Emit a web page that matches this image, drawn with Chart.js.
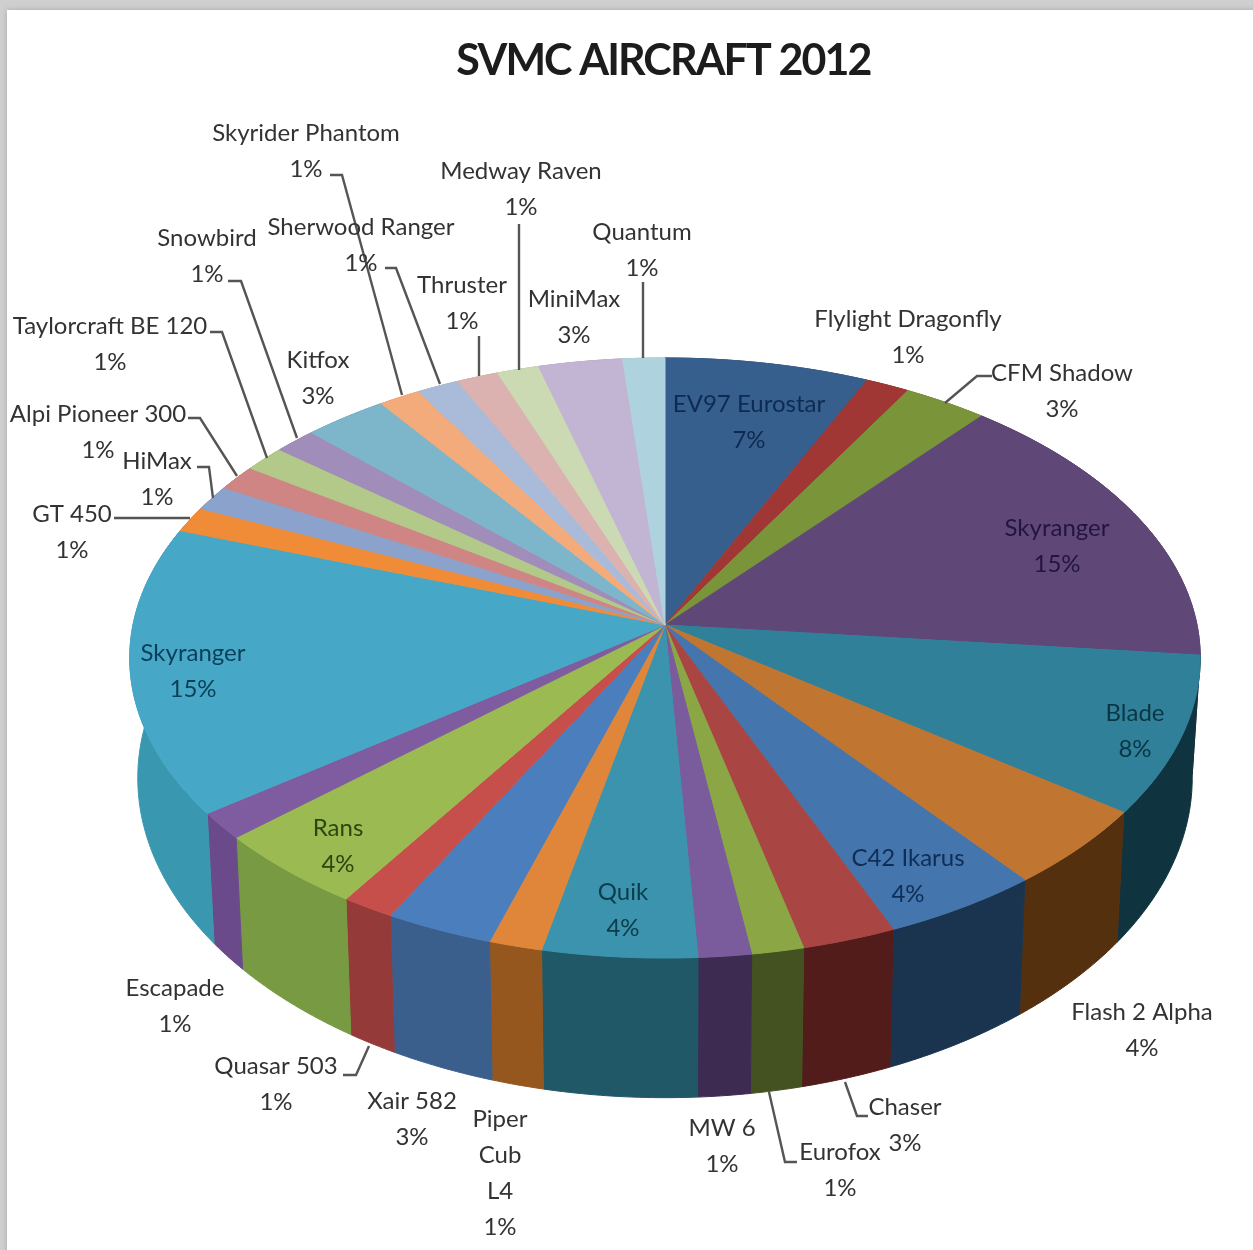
<!DOCTYPE html>
<html>
<head>
<meta charset="utf-8">
<title>SVMC Aircraft 2012</title>
<script src="https://cdn.jsdelivr.net/npm/chart.js@4"></script>
<style>
  html, body { margin: 0; padding: 0; background: #cfcfcf; overflow: hidden; }
  #sheet { position: absolute; left: 7px; top: 10px; width: 1300px; height: 1300px; background: #fff; box-shadow: 0 0 5px #a8a8a8; }
  #pieChart { position: absolute; left: 0; top: 0; display: block; }
</style>
</head>
<body>
<div id="sheet"></div>
<canvas id="pieChart" width="1253" height="1250"></canvas>
<script>
'use strict';

var titleText = 'SVMC AIRCRAFT 2012';

var categories = [
  'EV97 Eurostar', 'Flylight Dragonfly', 'CFM Shadow', 'Skyranger', 'Blade', 'Flash 2 Alpha',
  'C42 Ikarus', 'Chaser', 'Eurofox', 'MW 6', 'Quik', 'Piper Cub L4', 'Xair 582', 'Quasar 503',
  'Rans', 'Escapade', 'Skyranger', 'GT 450', 'HiMax', 'Alpi Pioneer 300', 'Taylorcraft BE 120',
  'Snowbird', 'Kitfox', 'Skyrider Phantom', 'Sherwood Ranger', 'Thruster', 'Medway Raven',
  'MiniMax', 'Quantum'
];

// share of the fleet per type in percent, the printed labels are these rounded
var fleetShares = [
  6.86, 1.47, 2.83, 15.44, 8.47, 4.33, 4.30, 2.56, 1.42, 1.44, 4.20, 1.45, 2.95, 1.44, 4.27, 1.44,
  15.48, 1.38, 1.38, 1.38, 1.41, 1.41, 2.82, 1.41, 1.41, 1.41, 1.41, 2.82, 1.41
];

var topColors = [
  '#375f8d', '#a03735', '#7a9439', '#5f4877', '#31809a', '#c07530', '#4475ac', '#a94543',
  '#8aa645', '#7a5b9c', '#3b93ae', '#e0863a', '#4a7ebd', '#c64f4c', '#9bbb52', '#7f5ba0',
  '#46a7c6', '#f08c38', '#8aa2cc', '#cf8583', '#b2c98a', '#a08db9', '#7db6ca', '#f4ab7b',
  '#a9bbd8', '#dcb2b0', '#ccdab4', '#c1b5d3', '#aed3de'
];

var wallColors = [
  '#2b4a6e', '#7c2a29', '#5f732c', '#4a385c', '#0f3440', '#54300f', '#1a3450', '#521c1a',
  '#445221', '#3e2b52', '#205868', '#96571f', '#3a5f8c', '#943a38', '#779a42', '#6b4a8c',
  '#3a97b0', '#b86c2b', '#6b7e9f', '#a16866', '#8a9c6b', '#7c6d90', '#618e9d', '#be855f',
  '#8391a8', '#ab8a89', '#9fa98c', '#968ca4', '#87a4ad'
];

// where each label goes: x is the text centre, y the first line, ink only set for labels on a slice
var labelSpots = [
  { x: 749, y: 404, ink: '#0d2b52' }, { x: 908, y: 319 }, { x: 1062, y: 373 }, { x: 1057, y: 528, ink: '#241440' },
  { x: 1135, y: 713, ink: '#0a3644' }, { x: 1142, y: 1012 }, { x: 908, y: 858, ink: '#0f2d55' }, { x: 905, y: 1107 },
  { x: 840, y: 1152 }, { x: 722, y: 1128 }, { x: 623, y: 892, ink: '#0c3c4c' }, { x: 500, y: 1119, wrap: true },
  { x: 412, y: 1101 }, { x: 276, y: 1066 }, { x: 338, y: 828, ink: '#2b4610' }, { x: 175, y: 988 },
  { x: 193, y: 653, ink: '#0a3f58' }, { x: 72, y: 514 }, { x: 157, y: 461 }, { x: 98, y: 414 }, { x: 110, y: 326 },
  { x: 207, y: 238 }, { x: 318, y: 360 }, { x: 306, y: 133 }, { x: 361, y: 227 }, { x: 462, y: 285 },
  { x: 521, y: 171 }, { x: 574, y: 299 }, { x: 642, y: 232 }
];

var leaderLines = [
  [[330, 175], [342, 175], [402, 395]],
  [[385, 268], [396, 268], [440, 384]],
  [[228, 281], [241, 281], [297, 438]],
  [[210, 332], [222, 332], [267, 458]],
  [[188, 418], [200, 418], [237, 476]],
  [[197, 467], [209, 467], [213, 498]],
  [[114, 518], [190, 518]],
  [[479, 336], [479, 376]],
  [[519, 224], [519, 370]],
  [[643, 282], [643, 358]],
  [[992, 376], [977, 376], [945, 403]],
  [[868, 1116], [857, 1116], [845, 1082]],
  [[797, 1162], [785, 1162], [769, 1092]],
  [[343, 1075], [356, 1075], [369, 1046]]
];

// tilted disc: plane coordinates go through a small perspective divide
var view = { cx: 665, cy: 625, rx: 532, ry: 296.4, tilt: 0.11, depth: 118, depthTilt: 0.155, floorScale: 0.985 };
var lineStep = 36;
var labelFont = '24px Lato, "Open Sans", sans-serif';
var labelInk = '#333';

function project(angle) {
  var u = Math.cos(angle);
  var v = Math.sin(angle);
  var d = 1 - view.tilt * v;
  return { x: view.cx + view.rx * u / d, y: view.cy + view.ry * v / d, v: v };
}

function rimPoints(arc) {
  var steps = Math.max(4, Math.ceil((arc.endAngle - arc.startAngle) * 90));
  var pts = [];
  for (var i = 0; i <= steps; i++) {
    pts.push(project(arc.startAngle + (arc.endAngle - arc.startAngle) * i / steps));
  }
  return pts;
}

function fillPath(ctx, pts, color) {
  ctx.beginPath();
  pts.forEach(function(p, i) {
    if (i === 0) ctx.moveTo(p.x, p.y);
    else ctx.lineTo(p.x, p.y);
  });
  ctx.closePath();
  ctx.fillStyle = color;
  ctx.strokeStyle = color;
  ctx.lineWidth = 1;
  ctx.fill();
  ctx.stroke();
}

// the pie's own arcs give the angles, the plugin paints them as a solid disc
var solidPie = {
  id: 'solidPie',
  beforeDraw: function(chart) {
    chart.ctx.letterSpacing = '-1.9px'; // tightens the title
  },
  beforeDatasetDraw: function(chart) {
    var ctx = chart.ctx;
    var arcs = chart.getDatasetMeta(0).data;
    ctx.save();
    arcs.forEach(function(arc, i) {
      var rim = rimPoints(arc);
      var floor = rim.map(function(p) {
        return {
          x: view.cx + (p.x - view.cx) * view.floorScale,
          y: p.y + view.depth / (1 - view.depthTilt * p.v)
        };
      }).reverse();
      fillPath(ctx, rim.concat(floor), wallColors[i]);
    });
    arcs.forEach(function(arc, i) {
      fillPath(ctx, [{ x: view.cx, y: view.cy }].concat(rimPoints(arc)), topColors[i]);
    });
    ctx.restore();
    return false;
  },
  afterDraw: function(chart) {
    var ctx = chart.ctx;
    ctx.save();
    ctx.letterSpacing = '0px';
    ctx.strokeStyle = '#555';
    ctx.lineWidth = 2.4;
    leaderLines.forEach(function(line) {
      ctx.beginPath();
      line.forEach(function(p, i) {
        if (i === 0) ctx.moveTo(p[0], p[1]);
        else ctx.lineTo(p[0], p[1]);
      });
      ctx.stroke();
    });
    ctx.font = labelFont;
    ctx.textAlign = 'center';
    ctx.textBaseline = 'middle';
    labelSpots.forEach(function(spot, i) {
      var lines = spot.wrap ? categories[i].split(' ') : [categories[i]];
      lines.push(Math.round(fleetShares[i]) + '%');
      ctx.fillStyle = spot.ink || labelInk;
      lines.forEach(function(text, n) {
        ctx.fillText(text, spot.x, spot.y + n * lineStep);
      });
    });
    ctx.restore();
  }
};

new Chart(document.getElementById('pieChart'), {
  type: 'pie',
  data: {
    labels: categories,
    datasets: [{ data: fleetShares, backgroundColor: topColors, borderWidth: 0 }]
  },
  options: {
    responsive: false,
    animation: false,
    layout: { padding: { left: 74 } },
    plugins: {
      legend: { display: false },
      tooltip: { enabled: false },
      title: {
        display: true,
        text: titleText,
        fullSize: false,
        color: '#1c1c1c',
        font: { family: 'Lato, "Open Sans", sans-serif', size: 43, weight: 'bold' },
        padding: { top: 35, bottom: 10 }
      }
    }
  },
  plugins: [solidPie]
});
</script>
</body>
</html>
